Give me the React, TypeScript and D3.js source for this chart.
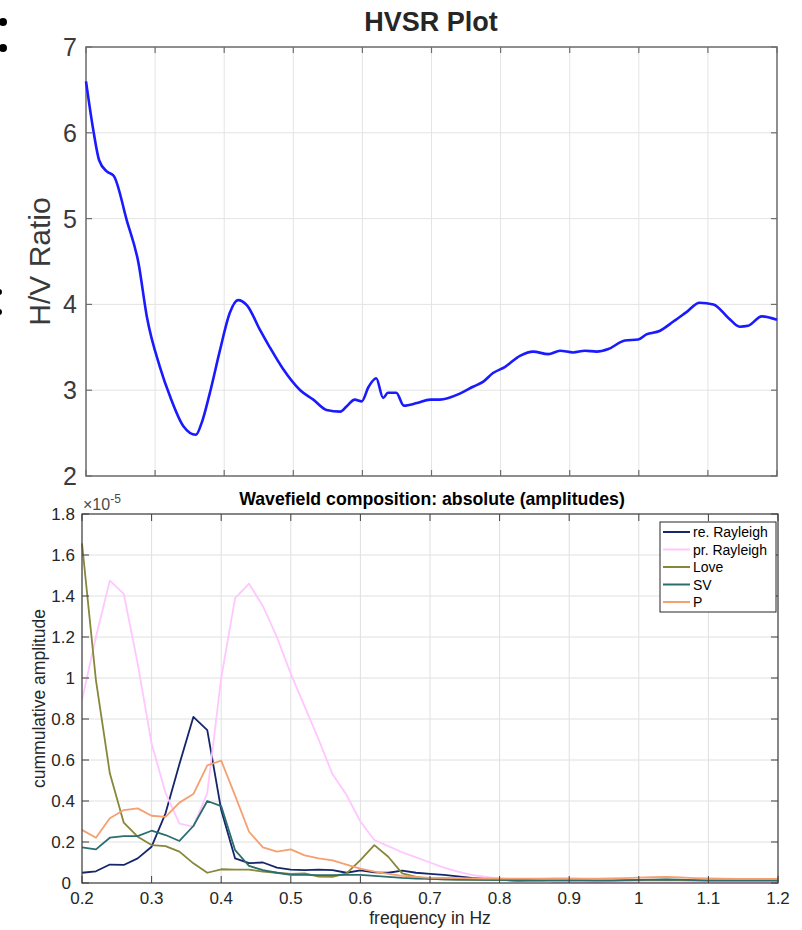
import React from 'react';
import * as d3 from 'd3';

// ---------- HVSR (top) ----------
const hvsrFreq = [
  0.200, 0.211, 0.219, 0.230, 0.240, 0.259, 0.276, 0.288, 0.307, 0.322, 0.341, 0.359, 0.367, 0.379,
  0.394, 0.408, 0.420, 0.433, 0.452, 0.466, 0.485, 0.510, 0.529, 0.548, 0.568, 0.577, 0.589, 0.599,
  0.609, 0.620, 0.630, 0.637, 0.649, 0.660, 0.679, 0.698, 0.712, 0.741, 0.760, 0.775, 0.789, 0.806,
  0.828, 0.847, 0.869, 0.886, 0.905, 0.922, 0.939, 0.956, 0.980, 0.999, 1.011, 1.030, 1.050, 1.069,
  1.088, 1.108, 1.130, 1.146, 1.158, 1.178, 1.200,
];
const hvsrRatio = [
  6.60, 6.01, 5.68, 5.55, 5.50, 4.98, 4.48, 3.86, 3.27, 2.92, 2.58, 2.48, 2.61, 2.96,
  3.47, 3.90, 4.05, 3.99, 3.70, 3.50, 3.25, 3.00, 2.89, 2.77, 2.75, 2.81, 2.89, 2.87,
  3.04, 3.14, 2.91, 2.97, 2.97, 2.82, 2.85, 2.89, 2.89, 2.96, 3.04, 3.10, 3.20, 3.27,
  3.40, 3.45, 3.42, 3.46, 3.44, 3.46, 3.45, 3.48, 3.58, 3.59, 3.65, 3.69, 3.80, 3.91,
  4.02, 4.00, 3.84, 3.74, 3.75, 3.86, 3.82,
];
const hvsrYTicks = [2, 3, 4, 5, 6, 7];
const freqTicks = [0.2, 0.3, 0.4, 0.5, 0.6, 0.7, 0.8, 0.9, 1.0, 1.1, 1.2];
const freqTickLabels = ['0.2', '0.3', '0.4', '0.5', '0.6', '0.7', '0.8', '0.9', '1', '1.1', '1.2'];

// ---------- Wavefield composition (bottom), values in 1e-5 ----------
const compFreq = [
  0.20, 0.22, 0.24, 0.26, 0.28, 0.30, 0.32, 0.34, 0.36, 0.38, 0.40, 0.42, 0.44, 0.46, 0.48,
  0.50, 0.52, 0.54, 0.56, 0.58, 0.60, 0.62, 0.64, 0.66, 0.68, 0.70, 0.72, 0.74, 0.76, 0.78,
  0.80, 0.82, 0.84, 0.86, 0.88, 0.90, 0.92, 0.94, 0.96, 0.98, 1.00, 1.02, 1.04, 1.06, 1.08,
  1.10, 1.12, 1.14, 1.16, 1.18, 1.20,
];
const reRayleigh = [
  0.050, 0.057, 0.090, 0.088, 0.120, 0.177, 0.340, 0.580, 0.810, 0.746, 0.356, 0.120, 0.097, 0.100, 0.075,
  0.065, 0.063, 0.065, 0.063, 0.050, 0.062, 0.052, 0.050, 0.060, 0.050, 0.045, 0.040, 0.032, 0.025, 0.020,
  0.015, 0.012, 0.010, 0.010, 0.008, 0.008, 0.007, 0.006, 0.006, 0.006, 0.007, 0.008, 0.009, 0.008, 0.007,
  0.006, 0.006, 0.005, 0.005, 0.005, 0.005,
];
const prRayleigh = [
  0.893, 1.200, 1.475, 1.410, 1.070, 0.680, 0.440, 0.290, 0.275, 0.440, 1.000, 1.390, 1.460, 1.350, 1.200,
  1.020, 0.860, 0.700, 0.530, 0.430, 0.300, 0.210, 0.180, 0.150, 0.125, 0.100, 0.075, 0.055, 0.040, 0.030,
  0.020, 0.015, 0.012, 0.010, 0.008, 0.007, 0.006, 0.005, 0.005, 0.005, 0.005, 0.005, 0.005, 0.005, 0.005,
  0.005, 0.005, 0.005, 0.005, 0.005, 0.005,
];
const love = [
  1.657, 0.990, 0.535, 0.294, 0.226, 0.185, 0.180, 0.153, 0.096, 0.050, 0.067, 0.065, 0.065, 0.055, 0.050,
  0.045, 0.047, 0.031, 0.030, 0.047, 0.112, 0.185, 0.128, 0.047, 0.030, 0.020, 0.018, 0.016, 0.015, 0.015,
  0.014, 0.014, 0.013, 0.013, 0.013, 0.014, 0.013, 0.012, 0.012, 0.013, 0.014, 0.015, 0.016, 0.014, 0.013,
  0.012, 0.012, 0.012, 0.012, 0.012, 0.012,
];
const sv = [
  0.174, 0.164, 0.221, 0.229, 0.229, 0.255, 0.234, 0.205, 0.278, 0.400, 0.375, 0.160, 0.083, 0.063, 0.050,
  0.040, 0.040, 0.038, 0.038, 0.040, 0.040, 0.035, 0.030, 0.025, 0.022, 0.020, 0.018, 0.017, 0.016, 0.015,
  0.015, 0.014, 0.014, 0.013, 0.013, 0.013, 0.013, 0.013, 0.013, 0.014, 0.015, 0.016, 0.018, 0.016, 0.014,
  0.013, 0.013, 0.013, 0.013, 0.013, 0.013,
];
const pWave = [
  0.259, 0.221, 0.316, 0.356, 0.364, 0.328, 0.323, 0.392, 0.434, 0.574, 0.597, 0.426, 0.250, 0.174, 0.153,
  0.164, 0.135, 0.120, 0.110, 0.090, 0.070, 0.055, 0.045, 0.035, 0.030, 0.025, 0.025, 0.024, 0.023, 0.022,
  0.022, 0.021, 0.021, 0.021, 0.022, 0.022, 0.021, 0.021, 0.022, 0.024, 0.026, 0.028, 0.030, 0.027, 0.024,
  0.022, 0.021, 0.020, 0.020, 0.020, 0.020,
];
const compYTicks = [0, 0.2, 0.4, 0.6, 0.8, 1, 1.2, 1.4, 1.6, 1.8];
const compYTickLabels = ['0', '0.2', '0.4', '0.6', '0.8', '1', '1.2', '1.4', '1.6', '1.8'];
const seriesNames = ['re. Rayleigh', 'pr. Rayleigh', 'Love', 'SV', 'P'];
const seriesColors = ['#15266b', '#ffc6ff', '#87873a', '#2c6d6d', '#f5a070'];
const seriesValues = [reRayleigh, prRayleigh, love, sv, pWave];

const FONT = '"Liberation Sans", Arial, Helvetica, sans-serif';

export default function App() {
  // top chart geometry
  const tx0 = 86, tx1 = 777, ty0 = 47, ty1 = 476;
  const txs = d3.scaleLinear().domain([0.2, 1.2]).range([tx0, tx1]);
  const tys = d3.scaleLinear().domain([2, 7]).range([ty1, ty0]);
  const hvsrLine = d3.line<number>()
    .x((_, i) => txs(hvsrFreq[i]))
    .y((d) => tys(d))
    .curve(d3.curveMonotoneX);

  // bottom chart geometry
  const bx0 = 82, bx1 = 778, by0 = 514, by1 = 883;
  const bxs = d3.scaleLinear().domain([0.2, 1.2]).range([bx0, bx1]);
  const bys = d3.scaleLinear().domain([0, 1.8]).range([by1, by0]);
  const compLine = d3.line<number>()
    .x((_, i) => bxs(compFreq[i]))
    .y((d) => bys(d));

  const gridTop = '#e4e4e4';
  const gridBot = '#e0e0e0';
  const axisTop = '#6e6e6e';
  const axisBot = '#404040';

  const legX = 660, legY = 522, legW = 116, legH = 90, legRow = 17.5;

  return (
    <svg width={802} height={930} style={{ position: 'absolute', left: 0, top: 0, background: '#fff' }} fontFamily={FONT}>
      <rect x={0} y={0} width={802} height={930} fill="#fff" />
      {/* cut-off marks on the left edge */}
      <circle cx={3} cy={22} r={4} fill="#000" />
      <circle cx={3} cy={48} r={4} fill="#000" />
      <circle cx={-1} cy={292} r={3} fill="#000" />
      <circle cx={-1} cy={312} r={3} fill="#000" />

      {/* ---------- TOP CHART ---------- */}
      <text x={431} y={31} textAnchor="middle" fontSize={27} fontWeight="bold" fill="#262626">HVSR Plot</text>
      <g>
        {freqTicks.map((t, i) => (
          <line key={'tgx' + i} x1={txs(t)} x2={txs(t)} y1={ty0} y2={ty1} stroke={gridTop} strokeWidth={1} />
        ))}
        {hvsrYTicks.map((t, i) => (
          <line key={'tgy' + i} x1={tx0} x2={tx1} y1={tys(t)} y2={tys(t)} stroke={gridTop} strokeWidth={1} />
        ))}
        {freqTicks.map((t, i) => (
          <g key={'ttx' + i}>
            <line x1={txs(t)} x2={txs(t)} y1={ty1} y2={ty1 - 6} stroke={axisTop} strokeWidth={1.2} />
            <line x1={txs(t)} x2={txs(t)} y1={ty0} y2={ty0 + 6} stroke={axisTop} strokeWidth={1.2} />
          </g>
        ))}
        {hvsrYTicks.map((t, i) => (
          <g key={'tty' + i}>
            <line x1={tx0} x2={tx0 + 6} y1={tys(t)} y2={tys(t)} stroke={axisTop} strokeWidth={1.2} />
            <line x1={tx1} x2={tx1 - 6} y1={tys(t)} y2={tys(t)} stroke={axisTop} strokeWidth={1.2} />
            <text x={77} y={tys(t) + 9} textAnchor="end" fontSize={25} fill="#3a3a3a">{t}</text>
          </g>
        ))}
        <rect x={tx0} y={ty0} width={tx1 - tx0} height={ty1 - ty0} fill="none" stroke={axisTop} strokeWidth={1.5} />
        <path d={hvsrLine(hvsrRatio) || ''} fill="none" stroke="#1a1aff" strokeWidth={2.6} strokeLinejoin="round" />
        <text transform={`translate(50,${(ty0 + ty1) / 2}) rotate(-90)`} textAnchor="middle" fontSize={30} fill="#3a3a3a">H/V Ratio</text>
      </g>

      {/* ---------- BOTTOM CHART ---------- */}
      <text x={432} y={505} textAnchor="middle" fontSize={17.7} fontWeight="bold" fill="#000">Wavefield composition: absolute (amplitudes)</text>
      <text x={83} y={510} fontSize={16} fill="#4a4a4a">×10<tspan dy={-7} fontSize={12}>-5</tspan></text>
      <g>
        {freqTicks.map((t, i) => (
          <line key={'bgx' + i} x1={bxs(t)} x2={bxs(t)} y1={by0} y2={by1} stroke={gridBot} strokeWidth={1} />
        ))}
        {compYTicks.map((t, i) => (
          <line key={'bgy' + i} x1={bx0} x2={bx1} y1={bys(t)} y2={bys(t)} stroke={gridBot} strokeWidth={1} />
        ))}
        {seriesValues.map((vals, k) => (
          <path key={'s' + k} d={compLine(vals) || ''} fill="none" stroke={seriesColors[k]} strokeWidth={1.8} strokeLinejoin="round" />
        ))}
        {freqTicks.map((t, i) => (
          <g key={'btx' + i}>
            <line x1={bxs(t)} x2={bxs(t)} y1={by1} y2={by1 - 7} stroke={axisBot} strokeWidth={1} />
            <line x1={bxs(t)} x2={bxs(t)} y1={by0} y2={by0 + 7} stroke={axisBot} strokeWidth={1} />
            <text x={bxs(t)} y={904} textAnchor="middle" fontSize={17} fill="#262626">{freqTickLabels[i]}</text>
          </g>
        ))}
        {compYTicks.map((t, i) => (
          <g key={'bty' + i}>
            <line x1={bx0} x2={bx0 + 7} y1={bys(t)} y2={bys(t)} stroke={axisBot} strokeWidth={1} />
            <line x1={bx1} x2={bx1 - 7} y1={bys(t)} y2={bys(t)} stroke={axisBot} strokeWidth={1} />
            <text x={t === 0 ? 71 : 75} y={bys(t) + 6} textAnchor="end" fontSize={17} fill="#262626">{compYTickLabels[i]}</text>
          </g>
        ))}
        <rect x={bx0} y={by0} width={bx1 - bx0} height={by1 - by0} fill="none" stroke={axisBot} strokeWidth={1.2} />
        <text x={430} y={924} textAnchor="middle" fontSize={17.5} fill="#262626">frequency in Hz</text>
        <text transform={`translate(45,${(by0 + by1) / 2}) rotate(-90)`} textAnchor="middle" fontSize={17.5} fill="#262626">cummulative amplitude</text>

        {/* legend */}
        <rect x={legX} y={legY} width={legW} height={legH} fill="#fff" stroke="#262626" strokeWidth={1} />
        {seriesNames.map((n, k) => (
          <g key={'lg' + k}>
            <line x1={legX + 3} x2={legX + 30} y1={legY + 10 + k * legRow} y2={legY + 10 + k * legRow} stroke={seriesColors[k]} strokeWidth={2} />
            <text x={legX + 33} y={legY + 15 + k * legRow} fontSize={14} fill="#000">{n}</text>
          </g>
        ))}
      </g>
    </svg>
  );
}
